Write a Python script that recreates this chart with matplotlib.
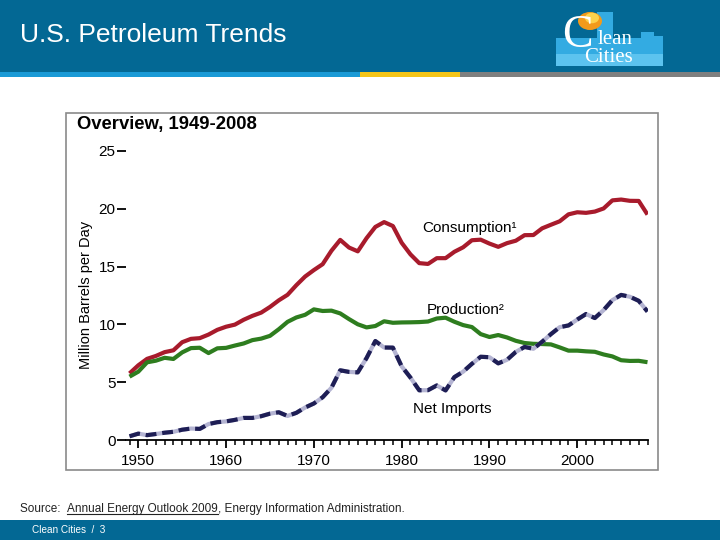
import matplotlib
matplotlib.use("Agg")
import matplotlib.pyplot as plt
from matplotlib.patches import Rectangle, Circle
from matplotlib.lines import Line2D

plt.rcParams['font.family'] = ['Liberation Sans', 'DejaVu Sans']

# ---------------- data (million barrels per day) ----------------
years = list(range(1949, 2009))
consumption = [5.76, 6.46, 7.02, 7.27, 7.60, 7.76, 8.46, 8.75, 8.81, 9.12,
               9.53, 9.80, 9.98, 10.40, 10.74, 11.02, 11.51, 12.08, 12.56, 13.39,
               14.14, 14.70, 15.21, 16.37, 17.31, 16.65, 16.32, 17.46, 18.43, 18.85,
               18.51, 17.06, 16.06, 15.30, 15.23, 15.73, 15.73, 16.28, 16.67, 17.28,
               17.33, 16.99, 16.71, 17.03, 17.24, 17.72, 17.73, 18.31, 18.62, 18.92,
               19.52, 19.70, 19.65, 19.76, 20.03, 20.73, 20.80, 20.69, 20.68, 19.50]
production = [5.48, 5.91, 6.72, 6.86, 7.11, 7.01, 7.58, 7.95, 7.98, 7.52,
              7.93, 7.97, 8.17, 8.35, 8.64, 8.77, 9.01, 9.58, 10.22, 10.60,
              10.83, 11.30, 11.16, 11.19, 10.95, 10.46, 10.01, 9.74, 9.86, 10.27,
              10.14, 10.17, 10.18, 10.20, 10.25, 10.51, 10.58, 10.23, 9.94, 9.77,
              9.16, 8.91, 9.08, 8.87, 8.58, 8.39, 8.32, 8.30, 8.27, 8.01,
              7.73, 7.73, 7.67, 7.63, 7.40, 7.23, 6.90, 6.84, 6.85, 6.73]
net_imports = [0.32, 0.55, 0.42, 0.52, 0.63, 0.71, 0.89, 0.99, 0.96, 1.38,
               1.54, 1.61, 1.74, 1.91, 1.91, 2.06, 2.28, 2.40, 2.08, 2.35,
               2.81, 3.16, 3.70, 4.52, 6.03, 5.89, 5.85, 7.09, 8.56, 8.00,
               7.99, 6.37, 5.40, 4.30, 4.31, 4.72, 4.29, 5.44, 5.91, 6.59,
               7.20, 7.16, 6.63, 6.94, 7.62, 8.05, 7.89, 8.50, 9.16, 9.76,
               9.91, 10.42, 10.90, 10.55, 11.24, 12.10, 12.55, 12.39, 12.04, 11.11]

x_ticks = [1950, 1960, 1970, 1980, 1990, 2000]
y_ticks = [0, 5, 10, 15, 20, 25]

# ---------------- figure ----------------
W, H = 720, 540
fig = plt.figure(figsize=(7.2, 5.4), dpi=100)
fig.patch.set_facecolor('white')

def fx(px):
    return px / W

def fy(py):
    return 1 - py / H

def rect(x0, y0, x1, y1, color, z=0, **kw):
    r = Rectangle((fx(x0), fy(y1)), fx(x1) - fx(x0), fy(y0) - fy(y1),
                  transform=fig.transFigure, facecolor=color, edgecolor='none',
                  zorder=z, **kw)
    fig.add_artist(r)
    return r

BLUE = '#036894'
# header
rect(0, 0, 720, 72, BLUE)
rect(0, 72, 360, 77, '#1a9ad6')
rect(360, 72, 460, 77, '#f5c518')
rect(460, 72, 720, 77, '#7f7f7f')
fig.text(fx(20), fy(35), 'U.S. Petroleum Trends', color='white', fontsize=19,
         va='center', ha='left')

# logo (simplified)
rect(556, 38, 663, 66, '#33abe2', z=1)
rect(556, 54, 663, 66, '#5cc3ef', z=1)
rect(597, 12, 613, 38, '#33abe2', z=1)
rect(641, 32, 654, 38, '#33abe2', z=1)
rect(654, 36, 663, 38, '#33abe2', z=1)
fig.add_artist(Circle((fx(590), fy(21)), 12 / W, transform=fig.transFigure,
                      facecolor='#f29a1c', edgecolor='none', zorder=2))
fig.add_artist(Circle((fx(592), fy(18)), 7 / W, transform=fig.transFigure,
                      facecolor='#fcd24c', edgecolor='none', zorder=2))
fig.text(fx(562), fy(36), 'C', color='white', fontsize=33, family='Liberation Serif',
         va='center', ha='left', zorder=3)
fig.text(fx(598), fy(39), 'lean', color='white', fontsize=15, family='Liberation Serif',
         va='center', ha='left', zorder=3)
fig.text(fx(584), fy(57.5), 'Cities', color='white', fontsize=15, family='Liberation Serif',
         va='center', ha='left', zorder=3)

# footer
rect(0, 520, 720, 540, BLUE)
fig.text(fx(32), fy(530), 'Clean Cities  /  3', color='white', fontsize=7.2,
         va='center', ha='left')

# chart frame
fr = Rectangle((fx(66), fy(470)), fx(658) - fx(66), fy(113) - fy(470),
               transform=fig.transFigure, facecolor='white', edgecolor='#8a8a8a',
               linewidth=1.2, zorder=0)
fig.add_artist(fr)
fig.text(fx(77), fy(125), 'Overview, 1949-2008', fontsize=13.3, fontweight='bold',
         va='center', ha='left')
fig.text(fx(86), fy(295), 'Million Barrels per Day', fontsize=10.5, rotation=90,
         va='center', ha='center')

# axes
ax = fig.add_axes([fx(126), fy(440), fx(647.5) - fx(126), fy(151) - fy(440)])
ax.set_facecolor('none')
ax.set_xlim(1948.6, 2008.0)
ax.set_ylim(0, 25)

RED = '#a81b2c'
GREEN = '#2e7d1f'
ax.plot(years, consumption, color=RED, lw=3.0, solid_capstyle='butt', zorder=3)
ax.plot(years, production, color=GREEN, lw=3.0, solid_capstyle='butt', zorder=3)
ax.plot(years, net_imports, color='#b4b4d2', lw=3.0, solid_capstyle='butt', zorder=3)
ax.plot(years, net_imports, color='#1e1e55', lw=3.0, dashes=(2.6, 1.4),
        solid_capstyle='butt', dash_capstyle='butt', zorder=4)

for s in ['top', 'right', 'left']:
    ax.spines[s].set_visible(False)
ax.spines['bottom'].set_linewidth(1.3)
ax.set_xticks(x_ticks)
ax.set_xticks(years, minor=True)
ax.set_yticks(y_ticks)
ax.set_xticklabels([str(v) for v in x_ticks])
ax.tick_params(axis='x', which='major', direction='out', length=6, width=1.3,
               labelsize=11, pad=4)
ax.tick_params(axis='x', which='minor', direction='out', length=3.5, width=1.1)
ax.tick_params(axis='y', which='major', direction='out', length=6.5, width=1.3,
               labelsize=11, pad=1)

ax.text(1982.3, 18.35, 'Consumption\u00b9', fontsize=11, va='center', ha='left')
ax.text(1982.8, 11.25, 'Production\u00b2', fontsize=11, va='center', ha='left')
ax.text(1981.25, 2.68, 'Net Imports', fontsize=11, va='center', ha='left')

# source line with underlined title
renderer = fig.canvas.get_renderer()
src_y = fy(509)
fs_src = 8.5
t1 = fig.text(fx(20), src_y, 'Source:  ', fontsize=fs_src, color='#222222',
              va='center', ha='left')
bb1 = t1.get_window_extent(renderer)
x2 = bb1.x1 / fig.bbox.width
t2 = fig.text(x2, src_y, 'Annual Energy Outlook 2009', fontsize=fs_src, color='#222222',
              va='center', ha='left')
bb2 = t2.get_window_extent(renderer)
x3 = bb2.x1 / fig.bbox.width
fig.add_artist(Line2D([x2, x3], [bb2.y0 / fig.bbox.height + 0.001] * 2,
                      transform=fig.transFigure, color='#222222', lw=0.8))
fig.text(x3, src_y, ', Energy Information Administration.', fontsize=fs_src,
         color='#222222', va='center', ha='left')

fig.savefig('out.png', dpi=100)
